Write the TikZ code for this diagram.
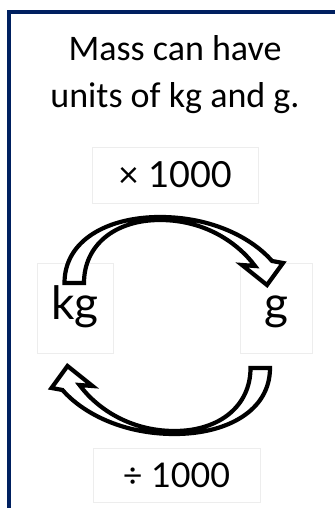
\documentclass[tikz,border=0pt]{standalone}
\usepackage{fontspec}
\setmainfont{Carlito}
\newfontfamily\latofont{Lato}
\definecolor{framenavy}{RGB}{0,32,96}

\begin{document}
\begin{tikzpicture}[x=1pt,y=1pt,
  labelbox/.style={draw=black!7,line width=0.6pt,inner sep=0pt},
  unitbox/.style={labelbox,minimum height=90pt,text height=34pt,text depth=10pt,
    font=\latofont\fontsize{46}{46}\selectfont},
  bandarrow/.style={draw=black,fill=white,line width=4.2pt,line join=miter}]
  \useasboundingbox (0,0) rectangle (335,508);
  % frame
  \draw[framenavy,line width=4.5pt,line join=miter] (9,0) -- (9,496) -- (335,496);
  % title
  \node[align=center,anchor=base,font=\fontsize{36}{47}\selectfont] (title) at (175,400)
    {Mass can have\\units of kg and g.};
  % labels
  \node[labelbox,minimum width=166pt,minimum height=56pt,
    font=\latofont\fontsize{36}{36}\selectfont] (times) at (175,333) {× 1000};
  \node[unitbox,minimum width=76pt] (kg) at (75,200) {kg};
  \node[unitbox,minimum width=72pt] (g) at (276,200) {g};
  \node[labelbox,minimum width=167pt,minimum height=54pt,
    font=\latofont\fontsize{34}{34}\selectfont] (divide) at (176.5,33) {÷ 1000};
  % curved arrows (top one, and the same turned half round)
  \foreach \r in {0,180}
    \draw[bandarrow,rotate around={\r:(167.25,182.5)}]
      (64.5,225) .. controls (64.5,268) and (108,291) .. (160,291)
      .. controls (212,291) and (252,270) .. (272,247)
      -- (283,245) -- (267,223) -- (242,243) -- (255,242)
      .. controls (238,265) and (205,288) .. (160,288)
      .. controls (115,288) and (84,263) .. (84,225) -- cycle;
\end{tikzpicture}
\end{document}
